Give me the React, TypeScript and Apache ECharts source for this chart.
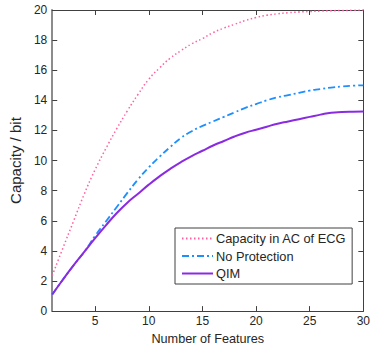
import React, { useEffect, useRef } from "react";
import * as echarts from "echarts";

const features = [1, 2, 3, 4, 5, 6, 7, 8, 9, 10, 11, 12, 13, 14, 15, 16, 17, 18, 19, 20, 21, 22, 23, 24, 25, 26, 27, 28, 29, 30];
const capacityAC = [2.35, 4.2, 6.0, 7.8, 9.4, 10.8, 12.1, 13.3, 14.4, 15.4, 16.15, 16.8, 17.3, 17.75, 18.1, 18.5, 18.8, 19.05, 19.3, 19.5, 19.65, 19.75, 19.82, 19.87, 19.9, 19.93, 19.95, 19.97, 19.98, 20.0];
const noProtection = [1.1, 2.1, 3.05, 3.95, 5.0, 5.95, 6.9, 7.85, 8.75, 9.55, 10.25, 10.9, 11.5, 11.95, 12.3, 12.6, 12.9, 13.2, 13.5, 13.75, 14.0, 14.2, 14.35, 14.5, 14.65, 14.75, 14.85, 14.92, 14.97, 15.0];
const qim = [1.1, 2.1, 3.05, 3.95, 4.85, 5.7, 6.5, 7.2, 7.8, 8.4, 8.95, 9.45, 9.9, 10.3, 10.65, 11.0, 11.3, 11.6, 11.85, 12.05, 12.25, 12.45, 12.6, 12.75, 12.9, 13.05, 13.18, 13.22, 13.24, 13.25];
const xTicks = [5, 10, 15, 20, 25, 30];
const seriesNames = ["Capacity in AC of ECG", "No Protection", "QIM"];

const FONT = "'Liberation Sans', Arial, sans-serif";
const TXT = "#262626";

export default function App() {
  const ref = useRef<HTMLDivElement>(null);
  useEffect(() => {
    if (!ref.current) return;
    const chart = echarts.init(ref.current, undefined, { renderer: "svg" });
    const pairs = (ys: number[]) => features.map((x, i) => [x, ys[i]]);
    const xBase = {
      type: "value" as const,
      min: 1,
      max: 30,
      splitLine: { show: false },
    };
    const yBase = {
      type: "value" as const,
      min: 0,
      max: 20,
      interval: 2,
      splitLine: { show: false },
    };
    chart.setOption({
      animation: false,
      backgroundColor: "#ffffff",
      textStyle: { fontFamily: FONT },
      grid: { left: 50, top: 10, right: 4, bottom: 37, containLabel: false },
      xAxis: [
        {
          ...xBase,
          position: "bottom",
          name: "Number of Features",
          nameLocation: "middle",
          nameGap: 18,
          nameTextStyle: { fontSize: 12.7, color: TXT, fontFamily: FONT },
          axisLine: { lineStyle: { color: "#404040", width: 1 } },
          axisTick: { inside: true, length: 5, customValues: xTicks, lineStyle: { color: "#404040" } },
          axisLabel: { customValues: xTicks, fontSize: 12, color: TXT, margin: 4, fontFamily: FONT },
        },
        {
          ...xBase,
          position: "top",
          axisLine: { onZero: false, lineStyle: { color: "#404040", width: 1 } },
          axisTick: { inside: true, length: 5, customValues: xTicks, lineStyle: { color: "#404040" } },
          axisLabel: { show: false },
        },
      ],
      yAxis: [
        {
          ...yBase,
          position: "left",
          name: "Capacity / bit",
          nameLocation: "middle",
          nameGap: 21,
          nameTextStyle: { fontSize: 15, color: TXT, fontFamily: FONT },
          axisLine: { show: true, onZero: false, lineStyle: { color: "#8c8c8c", width: 2 } },
          axisTick: { inside: true, length: 5, lineStyle: { color: "#404040" } },
          axisLabel: { fontSize: 12, color: TXT, margin: 5, fontFamily: FONT },
        },
        {
          ...yBase,
          position: "right",
          axisLine: { show: true, onZero: false, lineStyle: { color: "#404040", width: 1 } },
          axisTick: { inside: true, length: 5, lineStyle: { color: "#404040" } },
          axisLabel: { show: false },
        },
      ],
      legend: {
        orient: "vertical",
        left: 175,
        top: 228,
        data: seriesNames,
        backgroundColor: "#ffffff",
        borderColor: "#404040",
        borderWidth: 1,
        borderRadius: 0,
        padding: [4, 6, 4, 6],
        itemWidth: 31,
        itemHeight: 14,
        itemGap: 4.5,
        itemStyle: { opacity: 0 },
        textStyle: { fontSize: 12.8, color: TXT, fontFamily: FONT, padding: [0, 0, 0, -2] },
      },
      series: [
        {
          name: seriesNames[0],
          type: "line",
          data: pairs(capacityAC),
          symbol: "none",
          smooth: true,
          lineStyle: { color: "#ff5fa2", width: 1.5, type: [1.5, 2.5] },
          itemStyle: { color: "#ff5fa2" },
          z: 3,
        },
        {
          name: seriesNames[1],
          type: "line",
          data: pairs(noProtection),
          symbol: "none",
          smooth: true,
          lineStyle: { color: "#1e8fff", width: 1.8, type: [7, 3, 2, 3] },
          itemStyle: { color: "#1e8fff" },
          z: 4,
        },
        {
          name: seriesNames[2],
          type: "line",
          data: pairs(qim),
          symbol: "none",
          smooth: true,
          lineStyle: { color: "#8a2be2", width: 2 },
          itemStyle: { color: "#8a2be2" },
          z: 5,
        },
      ],
    });
    return () => chart.dispose();
  }, []);
  return <div ref={ref} style={{ width: 373, height: 350, position: "absolute", left: 0, top: 0 }} />;
}
